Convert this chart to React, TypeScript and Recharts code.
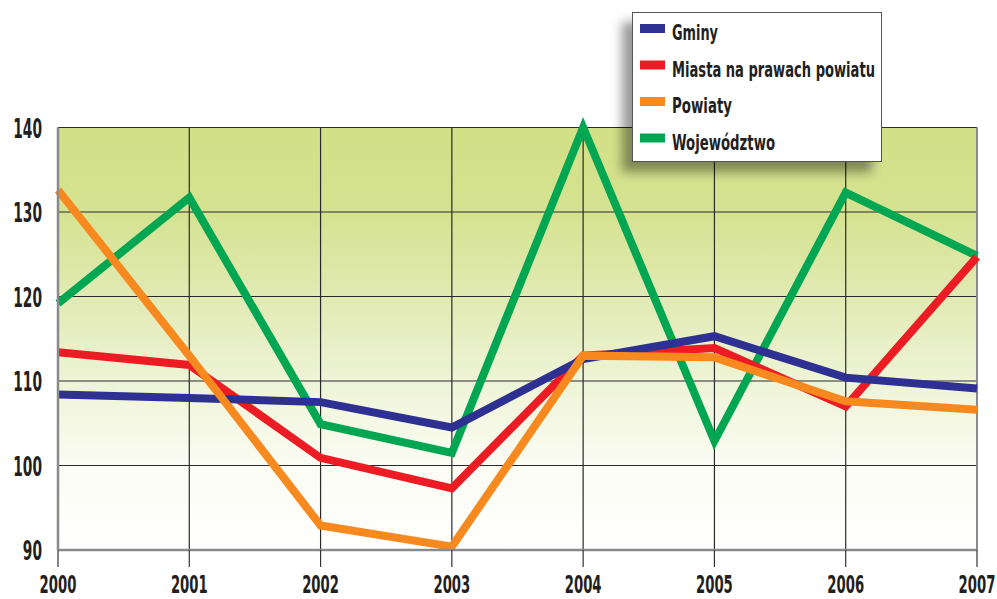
import React from 'react';
import {
  LineChart,
  Line,
  XAxis,
  YAxis,
  CartesianGrid,
  ReferenceLine
} from 'recharts';

// Lata na osi X
const years = [2000, 2001, 2002, 2003, 2004, 2005, 2006, 2007];
const yTicks = [90, 100, 110, 120, 130, 140];

// Wartości serii
const gminy = [108.4, 108.0, 107.5, 104.5, 112.6, 115.3, 110.4, 109.1];
const miasta = [113.4, 111.9, 100.9, 97.3, 113.0, 113.9, 107.0, 124.7];
const powiaty = [132.6, 113.0, 92.9, 90.4, 113.0, 112.8, 107.6, 106.6];
const wojewodztwo = [119.2, 131.7, 104.9, 101.5, 140.0, 102.9, 132.3, 124.8];

const data = years.map((year, i) => ({
  year,
  gminy: gminy[i],
  miasta: miasta[i],
  powiaty: powiaty[i],
  wojewodztwo: wojewodztwo[i]
}));

// Serie w kolejności legendy
const series = [
  { key: 'gminy', name: 'Gminy', color: '#2e3192', textWidth: 46 },
  { key: 'miasta', name: 'Miasta na prawach powiatu', color: '#ed1c24', textWidth: 203 },
  { key: 'powiaty', name: 'Powiaty', color: '#f7891f', textWidth: 60 },
  { key: 'wojewodztwo', name: 'Województwo', color: '#00a651', textWidth: 103 }
];
// kolejność rysowania (zielona pod spodem, pomarańczowa na wierzchu)
const drawOrder = ['wojewodztwo', 'miasta', 'gminy', 'powiaty'];

const FONT = "'Liberation Sans Narrow', 'DejaVu Sans Condensed', 'Roboto', sans-serif";
const TEXT_COLOR = '#231f20';

const YTick = ({ x, y, payload }: any) => {
  const label = String(payload.value);
  return (
    <text
      x={x}
      y={y}
      dy={10}
      textAnchor="end"
      fontFamily={FONT}
      fontWeight="bold"
      fontSize={27}
      fill={TEXT_COLOR}
      textLength={label.length * 9.6}
      lengthAdjust="spacingAndGlyphs"
    >
      {label}
    </text>
  );
};

const XTick = ({ x, y, payload }: any) => {
  const label = String(payload.value);
  return (
    <text
      x={x}
      y={y}
      dy={24}
      textAnchor="middle"
      fontFamily={FONT}
      fontWeight="bold"
      fontSize={25}
      fill={TEXT_COLOR}
      textLength={label.length * 9.2}
      lengthAdjust="spacingAndGlyphs"
    >
      {label}
    </text>
  );
};

const ChartLegend = () => (
  <div
    style={{
      position: 'absolute',
      left: 632,
      top: 12,
      width: 250,
      height: 150,
      background: '#fff',
      border: '1px solid #555',
      boxSizing: 'border-box',
      boxShadow: '-10px 10px 10px rgba(0,0,0,0.4)'
    }}
  >
    <svg width={248} height={148} style={{ display: 'block' }}>
      {series.map((s, i) => (
        <g key={s.key}>
          <rect x={7} y={11 + i * 36.5} width={25} height={9} fill={s.color} />
          <text
            x={39}
            y={27 + i * 36.5}
            fontFamily={FONT}
            fontWeight="bold"
            fontSize={22}
            fill={TEXT_COLOR}
            textLength={s.textWidth}
            lengthAdjust="spacingAndGlyphs"
          >
            {s.name}
          </text>
        </g>
      ))}
    </svg>
  </div>
);

export default function App() {
  return (
    <div style={{ position: 'relative', width: 997, height: 599 }}>
      <style>{'body{margin:0;overflow:hidden;background:#fff}'}</style>
      <LineChart
        width={997}
        height={599}
        data={data}
        margin={{ top: 127.5, right: 20, bottom: 0, left: 0 }}
      >
        <defs>
          <linearGradient id="plotBg" x1="0" y1="0" x2="0" y2="1">
            <stop offset="0%" stopColor="#d2e087" />
            <stop offset="20%" stopColor="#d5e290" />
            <stop offset="40%" stopColor="#e1eab3" />
            <stop offset="60%" stopColor="#eef4d6" />
            <stop offset="80%" stopColor="#fbfcf3" />
            <stop offset="100%" stopColor="#ffffff" />
          </linearGradient>
        </defs>
        <CartesianGrid
          fill="url(#plotBg)"
          fillOpacity={1}
          stroke="#2a2a2a"
          strokeWidth={1.2}
        />
        <XAxis
          dataKey="year"
          type="number"
          domain={[2000, 2007]}
          ticks={years}
          interval={0}
          height={49}
          tickSize={17}
          tickMargin={2}
          axisLine={{ stroke: '#8a8a8a', strokeWidth: 2.5 }}
          tickLine={{ stroke: '#333', strokeWidth: 1.2 }}
          tick={<XTick />}
        />
        <YAxis
          domain={[90, 140]}
          ticks={yTicks}
          width={58}
          tickSize={0}
          tickMargin={16}
          axisLine={{ stroke: '#8a8a8a', strokeWidth: 2.5 }}
          tickLine={false}
          tick={<YTick />}
        />
        <ReferenceLine x={2007} stroke="#8a8a8a" strokeWidth={2} />
        {drawOrder.map((key) => {
          const s = series.find((item) => item.key === key)!;
          return (
            <Line
              key={s.key}
              type="linear"
              dataKey={s.key}
              name={s.name}
              stroke={s.color}
              strokeWidth={8}
              strokeLinejoin="miter"
              dot={false}
              activeDot={false}
              isAnimationActive={false}
            />
          );
        })}
      </LineChart>
      <ChartLegend />
    </div>
  );
}
